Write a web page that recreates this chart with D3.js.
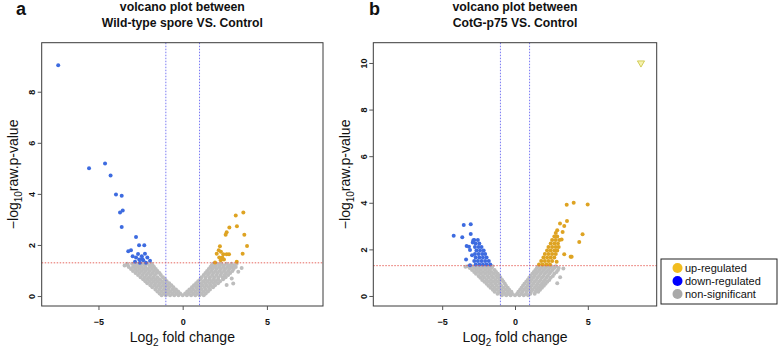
<!DOCTYPE html>
<html>
<head>
<meta charset="utf-8">
<script src="https://cdn.jsdelivr.net/npm/d3@7"></script>
<style>
  body { margin: 0; background: #fff; }
  svg { display: block; font-family: "Liberation Sans", Arial, sans-serif; }
</style>
</head>
<body>
<div id="chart"></div>
<script>
// ---- data (log2 fold change, -log10 p) ----
var xTicks = [-5, 0, 5];
var leftYTicks = [0, 2, 4, 6, 8];
var rightYTicks = [0, 2, 4, 6, 8, 10];
var fcCut = 1;
var pCut = 1.301;

var legendLabels = ["up-regulated", "down-regulated", "non-significant"];

// panel a : wild-type spore vs control
var leftDown = [[-7.39,9.04],[-5.56,5.00],[-4.61,5.19],[-4.28,4.72],[-3.96,3.98],[-3.62,3.93],
  [-3.72,3.27],[-3.56,3.35],[-3.62,2.70],[-2.77,2.31],[-2.59,1.99],[-2.28,1.99],[-3.23,1.75],
  [-3.07,1.79],[-2.97,1.56],[-2.77,1.51],[-2.58,1.43],[-2.83,1.34],[-2.43,1.56],[-2.24,1.66],
  [-2.10,1.51],[-1.94,1.38],[-2.34,1.40],[-2.54,1.30],[-2.18,1.30],[-2.65,1.65],[-2.40,1.45]];
var leftUp = [[3.60,3.27],[3.15,3.15],[3.22,2.73],[2.77,2.68],[3.66,2.40],[2.61,2.50],[2.55,2.40],
  [2.21,1.95],[3.82,1.96],[2.14,1.79],[2.27,1.73],[2.02,1.66],[2.41,1.64],[2.61,1.64],[2.75,1.64],
  [3.56,1.66],[2.17,1.51],[2.35,1.51],[2.26,1.40],[2.45,1.43],[1.92,1.31],[3.21,1.34]];
// grey cloud, one row of x values per -log10 p level
var leftGreyRows = [
  [0.03, [-1.25,-1.0,-0.75,-0.5,-0.25,0,0.25,0.5,0.75,1.0,1.25]],
  [0.10, [-1.37,-1.12,-0.87,-0.62,-0.37,-0.15,0.15,0.37,0.62,0.87,1.12,1.37]],
  [0.18, [-1.5,-1.25,-1.0,-0.75,-0.5,-0.27,0.27,0.5,0.75,1.0,1.25,1.5]],
  [0.26, [-1.62,-1.37,-1.12,-0.87,-0.62,-0.4,0.4,0.62,0.87,1.12,1.37,1.62]],
  [0.34, [-1.8,-1.55,-1.3,-1.05,-0.8,-0.55,0.55,0.8,1.05,1.3,1.55,1.8]],
  [0.42, [-1.92,-1.67,-1.42,-1.17,-0.92,-0.67,0.67,0.92,1.17,1.42,1.67,1.92]],
  [0.50, [-2.1,-1.85,-1.6,-1.35,-1.1,-0.8,0.8,1.1,1.35,1.6,1.85,2.1]],
  [0.58, [-2.22,-1.97,-1.72,-1.47,-1.22,-0.95,0.92,1.22,1.47,1.72,1.97,2.22]],
  [0.66, [-2.35,-2.1,-1.85,-1.6,-1.35,-1.05,1.05,1.35,1.6,1.85,2.1,2.4]],
  [0.74, [-2.5,-2.25,-2.0,-1.75,-1.5,-1.17,1.12,1.37,1.62,1.87,2.12,2.37,2.55]],
  [0.82, [-2.65,-2.4,-2.15,-1.9,-1.65,-1.3,1.25,1.5,1.75,2.0,2.25,2.5,2.7]],
  [0.90, [-2.8,-2.55,-2.3,-2.05,-1.8,-1.55,-1.38,1.35,1.57,1.82,2.07,2.32,2.57,2.82]],
  [0.98, [-2.95,-2.7,-2.45,-2.2,-1.95,-1.7,-1.5,1.45,1.7,1.95,2.2,2.45,2.7,2.95]],
  [1.06, [-3.07,-2.82,-2.57,-2.32,-2.07,-1.82,-1.6,1.55,1.77,2.02,2.27,2.52,2.77,3.02]],
  [1.14, [-3.2,-2.95,-2.7,-2.45,-2.2,-1.95,-1.7,1.65,1.9,2.15,2.4,2.65,2.9,3.15]],
  [1.20, [-3.25,-2.85,-2.55,-2.25,-1.95,-1.78,1.72,1.95,2.2,2.45,2.75,3.05]],
  [1.26, [-3.3,-3.0,-2.7,-2.4,-2.1,-1.85,1.8,2.05,2.3,2.6,2.9,3.2]]
];
var leftGreyExtra = [[2.61,0.43],[3.0,0.49],[2.91,0.69],[3.3,0.95],[3.5,1.1],[-3.45,1.2]];

// panel b : CotG-p75 vs control
var rightDownRows = [
  [1.35, [-2.7,-2.45,-2.2,-1.95,-1.7]],
  [1.50, [-2.8,-2.55,-2.3,-2.05,-1.8]],
  [1.65, [-2.7,-2.45,-2.2,-1.95]],
  [1.80, [-2.75,-2.5,-2.25,-2.05]],
  [1.95, [-2.65,-2.4,-2.15]],
  [2.10, [-2.75,-2.5,-2.3]],
  [2.25, [-2.7,-2.45]],
  [2.40, [-2.8,-2.55]]
];
var rightDownExtra = [[-3.52,3.05],[-3.04,3.08],[-4.21,2.58],[-3.62,2.52],[-3.04,2.66],[-3.32,2.15],
  [-3.16,2.11],[-3.09,1.97],[-3.36,1.57],[-3.09,1.32],[-2.95,1.75],[-2.9,2.3],[-2.86,2.39]];
var rightUpRows = [
  [1.35, [1.65,1.9,2.15,2.4]],
  [1.50, [1.8,2.05,2.3,2.55]],
  [1.65, [1.95,2.2,2.45,2.7]],
  [1.80, [2.05,2.3,2.55,2.8]],
  [1.95, [2.2,2.45,2.7,2.9]],
  [2.10, [2.3,2.55,2.8,3.0]],
  [2.25, [2.45,2.7,2.95]],
  [2.40, [2.55,2.8,3.05]],
  [2.55, [2.7,2.9]],
  [2.70, [2.8]]
];
var rightUpExtra = [[3.55,3.92],[4.03,4.00],[4.99,3.93],[3.09,3.11],[3.57,3.22],[3.38,3.00],
  [2.90,2.82],[3.27,2.75],[3.20,2.42],[4.64,2.65],[4.41,2.32],[3.38,1.79],[3.82,1.68],
  [2.86,1.47],[3.89,1.68]];
var rightGreyRows = [
  [0.03, [-0.9,-0.6,-0.3,0,0.3,0.6,0.9]],
  [0.10, [-1.2,-0.95,-0.7,-0.45,-0.2,0.15,0.45,0.75,1.05,1.35]],
  [0.18, [-1.4,-1.1,-0.8,-0.5,-0.25,0.23,0.5,0.8,1.1,1.4,1.6]],
  [0.27, [-1.52,-1.25,-0.95,-0.65,-0.4,0.35,0.62,0.9,1.2,1.5,1.72]],
  [0.35, [-1.68,-1.4,-1.1,-0.8,-0.5,0.45,0.75,1.05,1.35,1.6,1.85]],
  [0.44, [-1.82,-1.55,-1.25,-0.95,-0.62,0.55,0.85,1.15,1.45,1.72,1.98]],
  [0.52, [-1.95,-1.65,-1.35,-1.05,-0.7,0.65,0.95,1.25,1.55,1.85,2.1]],
  [0.61, [-2.1,-1.8,-1.5,-1.2,-0.8,0.77,1.05,1.35,1.65,1.95,2.22]],
  [0.69, [-2.25,-1.95,-1.65,-1.35,-1.05,-0.88,0.87,1.15,1.45,1.75,2.05,2.35]],
  [0.78, [-2.38,-2.1,-1.8,-1.5,-1.2,-1.0,0.98,1.25,1.55,1.85,2.15,2.45]],
  [0.86, [-2.5,-2.2,-1.9,-1.6,-1.3,-1.07,1.07,1.35,1.65,1.95,2.25,2.6]],
  [0.95, [-2.68,-2.35,-2.05,-1.75,-1.45,-1.18,1.19,1.45,1.75,2.05,2.35,2.7]],
  [1.03, [-2.8,-2.5,-2.2,-1.9,-1.6,-1.3,1.29,1.55,1.85,2.15,2.45,2.85]],
  [1.12, [-2.95,-2.65,-2.35,-2.05,-1.75,-1.4,1.4,1.68,1.98,2.28,2.58,2.95]],
  [1.20, [-3.1,-2.8,-2.5,-2.2,-1.9,-1.6,1.5,1.8,2.1,2.4,2.7,3.0]],
  [1.28, [-3.25,-2.95,-2.65,-2.35,-2.05,-1.75,-1.55,1.6,1.9,2.2,2.5,2.8]]
];
var rightGreyExtra = [[3.32,1.18],[3.1,0.8],[2.9,0.55],[-3.4,1.25]];
var rightOffscale = [[8.65, 10]];

// ---- helpers ----
function fromRows(rows) {
  var out = [];
  rows.forEach(function(r) {
    r[1].forEach(function(x) { out.push([x, r[0]]); });
  });
  return out;
}

var colors = {
  up: "#dea322",
  down: "#3d6be0",
  grey: "#bdbdbd",
  legUp: "#f2bd1f",
  legDown: "#0000ff",
  legGrey: "#a9a9a9"
};

var svg = d3.select("#chart").append("svg")
  .attr("width", 778)
  .attr("height", 348);

function drawPanel(cfg) {
  var x = d3.scaleLinear().domain(cfg.xDomain).range([cfg.left, cfg.right]);
  var y = d3.scaleLinear().domain(cfg.yDomain).range([cfg.bottom, cfg.top]);
  var cx = (cfg.left + cfg.right) / 2;

  var g = svg.append("g");

  // points: grey first, then coloured on top
  var groups = [
    [cfg.grey, colors.grey],
    [cfg.down, colors.down],
    [cfg.up, colors.up]
  ];
  groups.forEach(function(gr) {
    g.append("g").selectAll("circle")
      .data(gr[0])
      .enter()
      .append("circle")
      .attr("cx", d => x(d[0]))
      .attr("cy", d => y(d[1]))
      .attr("r", 2)
      .attr("fill", gr[1]);
  });

  if (cfg.offscale) {
    g.selectAll("path.off")
      .data(cfg.offscale)
      .enter()
      .append("path")
      .attr("class", "off")
      .attr("d", d3.symbol().type(d3.symbolTriangle).size(22))
      .attr("transform", d => `translate(${x(d[0])},${y(d[1])}) rotate(180)`)
      .attr("fill", "#f6f2b0")
      .attr("stroke", "#c8c23a")
      .attr("stroke-width", 0.8);
  }

  // cut-off lines
  [-fcCut, fcCut].forEach(function(v) {
    g.append("line")
      .attr("x1", x(v)).attr("x2", x(v))
      .attr("y1", cfg.top).attr("y2", cfg.bottom)
      .attr("stroke", "#6b6bf2")
      .attr("stroke-width", 0.9)
      .attr("stroke-dasharray", "1.5,1.5");
  });
  g.append("line")
    .attr("x1", cfg.left).attr("x2", cfg.right)
    .attr("y1", y(pCut)).attr("y2", y(pCut))
    .attr("stroke", "#e4584f")
    .attr("stroke-width", 0.9)
    .attr("stroke-dasharray", "1.5,1.5");

  // box
  g.append("rect")
    .attr("x", cfg.left).attr("y", cfg.top)
    .attr("width", cfg.right - cfg.left)
    .attr("height", cfg.bottom - cfg.top)
    .attr("fill", "none")
    .attr("stroke", "#3a3a3a")
    .attr("stroke-width", 1);

  // axes
  var xAxis = g.append("g")
    .attr("transform", `translate(0,${cfg.bottom})`)
    .call(d3.axisBottom(x).tickValues(xTicks).tickSize(4));
  xAxis.select(".domain").remove();
  xAxis.selectAll("line").attr("stroke", "#555");
  xAxis.selectAll("text")
    .attr("y", 19).attr("dy", 0)
    .attr("fill", "#111")
    .style("font-size", "9px")
    .style("font-weight", "bold")
    .style("font-family", "'Liberation Sans', Arial, sans-serif");

  var yAxis = g.append("g")
    .attr("transform", `translate(${cfg.left},0)`)
    .call(d3.axisLeft(y).tickValues(cfg.yTicks).tickSize(4));
  yAxis.select(".domain").remove();
  yAxis.selectAll("line").attr("stroke", "#555");
  yAxis.selectAll("text")
    .attr("transform", "rotate(-90)")
    .attr("x", 0).attr("y", -6.5).attr("dy", 0)
    .attr("text-anchor", "middle")
    .attr("fill", "#111")
    .style("font-size", "9px")
    .style("font-weight", "bold")
    .style("font-family", "'Liberation Sans', Arial, sans-serif");

  // axis titles
  var xt = g.append("text")
    .attr("x", cx).attr("y", 341.5)
    .attr("text-anchor", "middle")
    .style("font-size", "14px")
    .attr("fill", "#111");
  xt.append("tspan").text("Log");
  xt.append("tspan").attr("dy", 4).style("font-size", "10px").text("2");
  xt.append("tspan").attr("dy", -4).text(" fold change");

  var ym = (cfg.top + cfg.bottom) / 2;
  var yt = g.append("text")
    .attr("transform", `translate(${cfg.yTitleX},${ym}) rotate(-90)`)
    .attr("text-anchor", "middle")
    .style("font-size", "14px")
    .attr("fill", "#111");
  yt.append("tspan").text("\u2212log");
  yt.append("tspan").attr("dy", 4).style("font-size", "10px").text("10");
  yt.append("tspan").attr("dy", -4).text("raw.p-value");

  // title
  g.append("text")
    .attr("x", cx).attr("y", 11)
    .attr("text-anchor", "middle")
    .style("font-size", "12.3px").style("font-weight", "bold")
    .attr("fill", "#111")
    .text("volcano plot between");
  g.append("text")
    .attr("x", cx).attr("y", 26.5)
    .attr("text-anchor", "middle")
    .style("font-size", "12.2px").style("font-weight", "bold")
    .attr("fill", "#111")
    .text(cfg.title);

  // panel letter
  g.append("text")
    .attr("x", cfg.letterX).attr("y", 15)
    .style("font-size", "18px").style("font-weight", "bold")
    .attr("fill", "#111")
    .text(cfg.letter);
}

drawPanel({
  left: 41.7, right: 323, top: 42.7, bottom: 306,
  xDomain: [-8.37, 8.33], yDomain: [-0.39, 9.92],
  yTicks: leftYTicks,
  grey: fromRows(leftGreyRows).concat(leftGreyExtra),
  down: leftDown, up: leftUp,
  title: "Wild-type spore VS. Control",
  letter: "a", letterX: 16, yTitleX: 18
});

drawPanel({
  left: 373.3, right: 656.7, top: 42.7, bottom: 306,
  xDomain: [-9.73, 9.73], yDomain: [-0.43, 10.87],
  yTicks: rightYTicks,
  grey: fromRows(rightGreyRows).concat(rightGreyExtra),
  down: fromRows(rightDownRows).concat(rightDownExtra),
  up: fromRows(rightUpRows).concat(rightUpExtra),
  offscale: rightOffscale,
  title: "CotG-p75 VS. Control",
  letter: "b", letterX: 369, yTitleX: 349.5
});

// legend
var legend = svg.append("g").attr("transform", "translate(661,259)");
legend.append("rect")
  .attr("width", 116).attr("height", 45)
  .attr("fill", "#fff")
  .attr("stroke", "#222")
  .attr("stroke-width", 1);
var legColors = [colors.legUp, colors.legDown, colors.legGrey];
var row = legend.selectAll("g.item")
  .data(legendLabels)
  .enter()
  .append("g")
  .attr("class", "item")
  .attr("transform", (d, i) => `translate(0,${9 + i * 13})`);
row.append("circle")
  .attr("cx", 16.5).attr("cy", 0).attr("r", 5)
  .attr("fill", (d, i) => legColors[i]);
row.append("text")
  .attr("x", 24).attr("y", 4)
  .style("font-size", "11px")
  .attr("fill", "#111")
  .text(d => d);
</script>
</body>
</html>
